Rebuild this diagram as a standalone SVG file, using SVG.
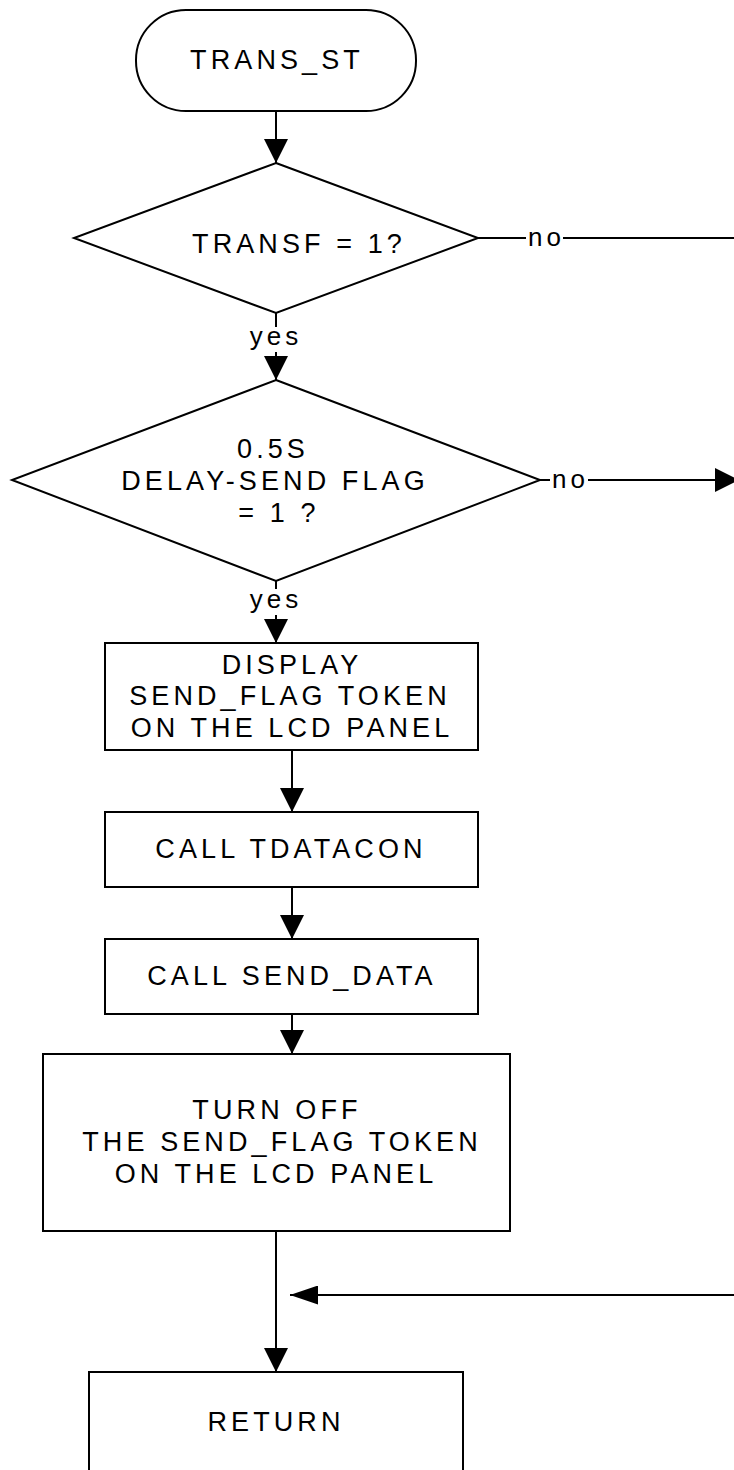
<svg xmlns="http://www.w3.org/2000/svg" width="734" height="1470" viewBox="0 0 734 1470">
<style>
.s{fill:#fff;stroke:#000;stroke-width:2}
.c{fill:none;stroke:#000;stroke-width:2}
text{font-family:"Liberation Sans",Arial,sans-serif;font-size:27px;letter-spacing:4.1px;fill:#000}
.m{text-anchor:middle}
.l{font-size:26px;letter-spacing:4px}
</style>
<defs>
<marker id="av" viewBox="0 0 24 24" markerWidth="24" markerHeight="24" refX="24" refY="12" orient="auto" markerUnits="userSpaceOnUse"><path d="M0,0L24,12L0,24z" fill="#000"/></marker>
<marker id="ah" viewBox="0 0 28 19" markerWidth="28" markerHeight="19" refX="28" refY="9.5" orient="auto" markerUnits="userSpaceOnUse"><path d="M0,0L28,9.5L0,19z" fill="#000"/></marker>
</defs>
<rect width="734" height="1470" fill="#fff"/>
<g id="connectors">
<line class="c" x1="276" y1="111" x2="276" y2="163" marker-end="url(#av)"/>
<line class="c" x1="478" y1="238" x2="526" y2="238"/>
<line class="c" x1="563" y1="238" x2="734" y2="238"/>
<line class="c" x1="276" y1="313" x2="276" y2="327"/>
<line class="c" x1="276" y1="352" x2="276" y2="380" marker-end="url(#av)"/>
<line class="c" x1="540" y1="480" x2="550" y2="480"/>
<line class="c" x1="588" y1="480" x2="739" y2="480" marker-end="url(#av)"/>
<line class="c" x1="276" y1="581" x2="276" y2="589"/>
<line class="c" x1="276" y1="615" x2="276" y2="643" marker-end="url(#av)"/>
<line class="c" x1="292" y1="750" x2="292" y2="812" marker-end="url(#av)"/>
<line class="c" x1="292" y1="887" x2="292" y2="939" marker-end="url(#av)"/>
<line class="c" x1="292" y1="1014" x2="292" y2="1054" marker-end="url(#av)"/>
<line class="c" x1="276" y1="1231" x2="276" y2="1372" marker-end="url(#av)"/>
<line class="c" x1="734" y1="1295" x2="290" y2="1295" marker-end="url(#ah)"/>
<text class="l" x="528" y="246">no</text>
<text class="l" x="552" y="488">no</text>
<text class="l m" x="276" y="345">yes</text>
<text class="l m" x="276" y="608">yes</text>
</g>
<g id="start">
<rect class="s" x="136" y="10" width="280" height="101" rx="50" ry="50"/>
<text class="m" x="277" y="69">TRANS_ST</text>
</g>
<g id="transf">
<polygon class="s" points="276,163 478,238 276,313 74,238"/>
<text class="m" x="299" y="253">TRANSF = 1?</text>
</g>
<g id="delay">
<polygon class="s" points="276,380 540,480 276,581 12,480"/>
<text class="m" x="273" y="458">0.5S</text>
<text class="m" x="275" y="490">DELAY-SEND FLAG</text>
<text class="m" x="279" y="522">= 1 ?</text>
</g>
<g id="display">
<rect class="s" x="105" y="643" width="373" height="107"/>
<text class="m" x="292" y="674">DISPLAY</text>
<text class="m" x="290" y="705">SEND_FLAG TOKEN</text>
<text class="m" x="292" y="737">ON THE LCD PANEL</text>
</g>
<g id="tdatacon">
<rect class="s" x="105" y="812" width="373" height="75"/>
<text class="m" x="291" y="858">CALL TDATACON</text>
</g>
<g id="senddata">
<rect class="s" x="105" y="939" width="373" height="75"/>
<text class="m" x="292" y="985">CALL SEND_DATA</text>
</g>
<g id="turnoff">
<rect class="s" x="43" y="1054" width="467" height="177"/>
<text class="m" x="277" y="1119">TURN OFF</text>
<text class="m" x="282" y="1151">THE SEND_FLAG TOKEN</text>
<text class="m" x="276" y="1183">ON THE LCD PANEL</text>
</g>
<g id="return">
<rect class="s" x="89" y="1372" width="374" height="120"/>
<text class="m" x="276" y="1431">RETURN</text>
</g>
</svg>
